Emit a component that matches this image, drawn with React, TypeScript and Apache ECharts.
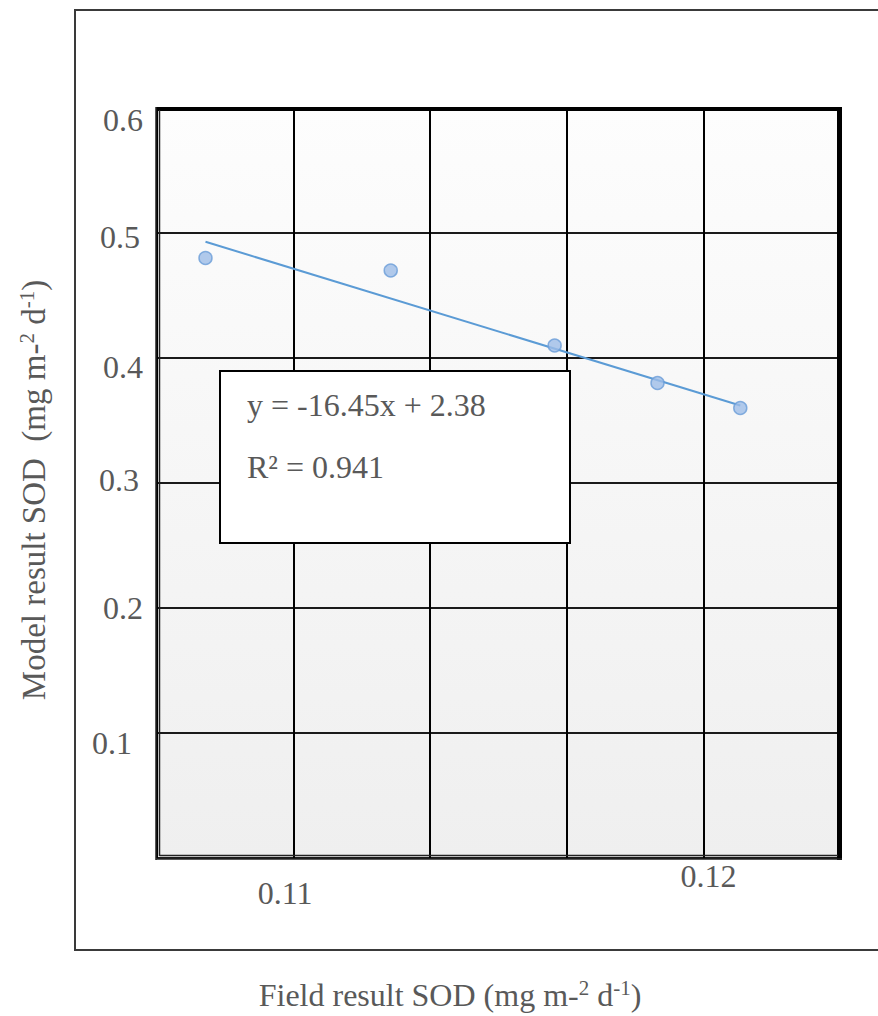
import React, { useEffect, useRef } from "react";
import * as echarts from "echarts";

// Field result SOD (x) and model result SOD (y)
const fieldSOD = [0.10785, 0.11237, 0.11637, 0.11888, 0.1209];
const modelSOD = [0.48, 0.47, 0.41, 0.38, 0.36];
// Trend line end points as drawn
const trendX = [0.10785, 0.1209];
const trendY = [0.493, 0.362];
// Axis ticks
const xMin = 32 / 300;
const xMax = 37 / 300;
const xStep = 1 / 300;
const xTickLabels = ["0.11", "0.12"];
const xTickValues = [0.11, 0.12];
const yTickLabels = ["", "0.1", "0.2", "0.3", "0.4", "0.5", "0.6"];
const equationText = "y = -16.45x + 2.38";
const r2Text = "R² = 0.941";

const FONT = '"Liberation Serif", "Times New Roman", serif';
const TXT = "#595959";

export default function App() {
  const ref = useRef<HTMLDivElement>(null);
  useEffect(() => {
    if (!ref.current) return;
    const chart = echarts.init(ref.current, null, { renderer: "svg" });
    // per-label fine offsets [dy, shiftLeft]
    const yOff: Record<number, [number, number]> = {
      1: [10, 11],
      2: [0, 0],
      3: [-3, 4],
      4: [9, 0],
      5: [4, 3],
      6: [12, 0],
    };
    const yRich: any = {};
    for (let i = 1; i <= 6; i++) {
      const [dy, sl] = yOff[i];
      yRich["y" + i] = {
        fontFamily: FONT,
        fontSize: 32,
        color: TXT,
        padding: [dy > 0 ? 2 * dy : 0, sl, dy < 0 ? -2 * dy : 0, 0],
      };
    }
    const option: any = {
      animation: false,
      backgroundColor: "#ffffff",
      grid: {
        left: 157,
        top: 108,
        right: 38,
        bottom: 158,
        show: true,
        borderWidth: 0,
        backgroundColor: new echarts.graphic.LinearGradient(0, 0, 0, 1, [
          { offset: 0, color: "#fdfdfd" },
          { offset: 1, color: "#efefef" },
        ]),
      },
      xAxis: {
        type: "value",
        min: xMin,
        max: xMax,
        interval: xStep,
        axisLine: { show: false },
        axisTick: { show: false },
        splitLine: { show: true, lineStyle: { color: "#000", width: 2 } },
        axisLabel: {
          margin: 2,
          formatter: (v: number) => {
            for (let i = 0; i < xTickValues.length; i++) {
              if (Math.abs(v - xTickValues[i]) < 1e-6) {
                return `{x${i}|${xTickLabels[i]}}`;
              }
            }
            return "";
          },
          rich: {
            x0: {
              fontFamily: FONT,
              fontSize: 32,
              color: TXT,
              lineHeight: 32,
              padding: [34, 17, 0, 0],
            },
            x1: {
              fontFamily: FONT,
              fontSize: 32,
              color: TXT,
              lineHeight: 32,
              padding: [0, 0, 0, 10],
            },
          },
        },
      },
      yAxis: {
        type: "value",
        min: 0,
        max: 0.6,
        interval: 0.1,
        axisLine: { show: false },
        axisTick: { show: false },
        splitLine: { show: true, lineStyle: { color: "#1a1a1a", width: 2 } },
        axisLabel: {
          margin: 14,
          formatter: (v: number) => {
            const k = Math.round(v * 10);
            if (k === 0) return "";
            return `{y${k}|${yTickLabels[k]}}`;
          },
          rich: yRich,
        },
      },
      series: [
        {
          type: "line",
          data: trendX.map((x, i) => [x, trendY[i]]),
          symbol: "none",
          lineStyle: { color: "#5b9bd5", width: 2 },
          z: 3,
        },
        {
          type: "scatter",
          data: fieldSOD.map((x, i) => [x, modelSOD[i]]),
          symbolSize: 13,
          itemStyle: { color: "#9dbde7", borderColor: "#6b9ed8", borderWidth: 1.5 },
          z: 4,
        },
      ],
      graphic: [
        // outer frame
        {
          type: "rect",
          z: 1,
          shape: { x: 75, y: 10, width: 900, height: 940 },
          style: { fill: "none", stroke: "#3a3a3a", lineWidth: 2 },
        },
        // plot frame
        { type: "line", z: 50, shape: { x1: 156, y1: 109, x2: 842, y2: 109 }, style: { stroke: "#000", lineWidth: 4 } },
        { type: "line", z: 50, shape: { x1: 839.5, y1: 107, x2: 839.5, y2: 860 }, style: { stroke: "#000", lineWidth: 5 } },
        { type: "line", z: 50, shape: { x1: 156, y1: 107, x2: 156, y2: 860 }, style: { stroke: "#222", lineWidth: 1.5 } },
        { type: "line", z: 50, shape: { x1: 159.5, y1: 110, x2: 159.5, y2: 856 }, style: { stroke: "#222", lineWidth: 1.5 } },
        { type: "line", z: 50, shape: { x1: 156, y1: 859, x2: 842, y2: 859 }, style: { stroke: "#222", lineWidth: 1.5 } },
        { type: "line", z: 50, shape: { x1: 159.5, y1: 855.5, x2: 838, y2: 855.5 }, style: { stroke: "#222", lineWidth: 1.5 } },
        // equation box
        {
          type: "rect",
          z: 60,
          shape: { x: 220, y: 371, width: 350, height: 172 },
          style: { fill: "#ffffff", stroke: "#000", lineWidth: 2 },
        },
        {
          type: "text",
          z: 61,
          x: 247,
          y: 405,
          style: {
            text: equationText,
            fontFamily: FONT,
            fontSize: 32,
            fill: TXT,
            verticalAlign: "middle",
            align: "left",
          },
        },
        {
          type: "text",
          z: 61,
          x: 247,
          y: 467,
          style: {
            text: r2Text,
            fontFamily: FONT,
            fontSize: 32,
            fill: TXT,
            verticalAlign: "middle",
            align: "left",
          },
        },
        // axis titles
        {
          type: "text",
          z: 61,
          x: 450,
          y: 995,
          style: {
            text: "{n|Field result SOD (mg m-}{s|2}{n| d}{s|-1}{n|)}",
            align: "center",
            verticalAlign: "middle",
            rich: {
              n: { fontFamily: FONT, fontSize: 32, fill: TXT, lineHeight: 36 },
              s: { fontFamily: FONT, fontSize: 21, fill: TXT, lineHeight: 36, verticalAlign: "top" },
            },
          },
        },
        {
          type: "text",
          z: 61,
          x: 34,
          y: 490,
          rotation: Math.PI / 2,
          style: {
            text: "{n|Model result SOD  (mg m-}{s|2}{n| d}{s|-1}{n|)}",
            align: "center",
            verticalAlign: "middle",
            rich: {
              n: { fontFamily: FONT, fontSize: 33, fill: TXT, lineHeight: 36 },
              s: { fontFamily: FONT, fontSize: 21, fill: TXT, lineHeight: 36, verticalAlign: "top" },
            },
          },
        },
      ],
    };
    chart.setOption(option);
    return () => chart.dispose();
  }, []);
  return (
    <div
      ref={ref}
      style={{ position: "absolute", left: 0, top: 0, width: 878, height: 1016 }}
    />
  );
}
